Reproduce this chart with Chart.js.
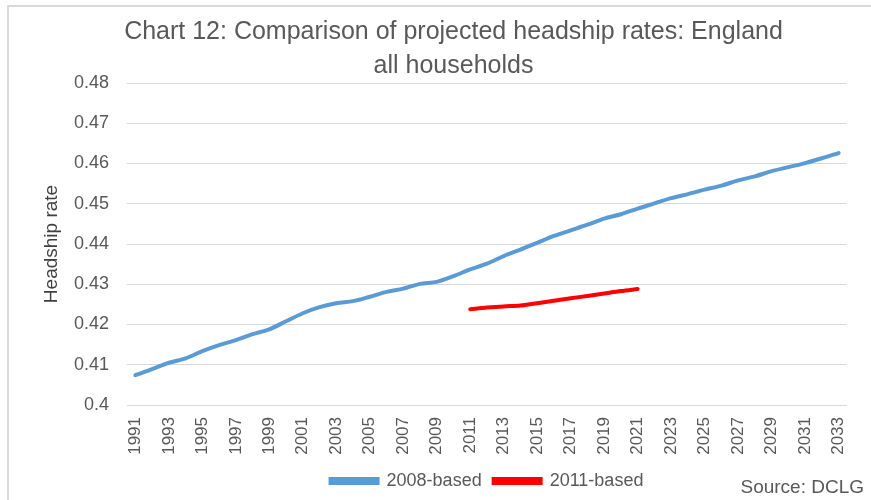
<!DOCTYPE html>
<html>
<head>
<meta charset="utf-8">
<script src="https://cdn.jsdelivr.net/npm/chart.js@4/dist/chart.umd.min.js"></script>
<style>
  html, body { margin: 0; padding: 0; background: #fff; }
  #wrap { width: 871px; height: 500px; position: relative; }
</style>
</head>
<body>
<div id="wrap"><canvas id="myChart"></canvas></div>
<script>
// years on the x axis
const years = [];
for (let y = 1991; y <= 2033; y++) years.push(String(y));

// 2008-based headship rate
const based2008 = [
    0.4074, 0.4089, 0.4105, 0.4116, 0.4134, 0.4149, 0.4161, 0.4176, 0.4188, 0.4208,
    0.4228, 0.4243, 0.4253, 0.4258, 0.4269, 0.4281, 0.4289, 0.4301, 0.4306, 0.4320,
    0.4337, 0.4351, 0.4370, 0.4386, 0.4403, 0.4420, 0.4434, 0.4448, 0.4463, 0.4474,
    0.4488, 0.4501, 0.4514, 0.4524, 0.4535, 0.4545, 0.4558, 0.4568, 0.4581, 0.4591,
    0.4601, 0.4613, 0.4626
];

// 2011-based projection, only 2011 to 2021
const based2011 = [
    null, null, null, null, null, null, null, null, null, null,
    null, null, null, null, null, null, null, null, null, null,
    0.4238, 0.4242, 0.4245, 0.4247, 0.4253, 0.4259, 0.4265, 0.4271, 0.4277, 0.4283,
    0.4288, null, null, null, null, null, null, null, null, null,
    null, null, null
];

const titleLines = ['Chart 12: Comparison of projected headship rates: England', 'all households'];
const sourceText = 'Source: DCLG';

const FONT = "'Liberation Sans', Arial, sans-serif";
const GREY = '#595959';

// light frame round the chart and the source note
const extras = {
    id: 'extras',
    beforeDraw(chart) {
        const c = chart.ctx;
        c.save();
        c.fillStyle = '#fff';
        c.fillRect(0, 0, chart.width, chart.height);
        c.strokeStyle = '#d9d9d9';
        c.lineWidth = 2;
        c.strokeRect(8, 6, chart.width + 20, chart.height + 20);
        c.restore();
    },
    afterDraw(chart) {
        const c = chart.ctx;
        c.save();
        c.font = '19px ' + FONT;
        c.fillStyle = GREY;
        c.textAlign = 'right';
        c.textBaseline = 'alphabetic';
        c.fillText(sourceText, chart.width - 7, 493);
        c.restore();
    }
};

const ctx = document.getElementById('myChart');
new Chart(ctx, {
    type: 'line',
    data: {
        labels: years,
        datasets: [{
            label: '2008-based',
            data: based2008,
            borderColor: '#5b9bd5',
            backgroundColor: '#5b9bd5',
            borderWidth: 4,
            pointRadius: 0,
            tension: 0.3,
            borderCapStyle: 'round'
        },
        {
            label: '2011-based',
            data: based2011,
            borderColor: '#ff0000',
            backgroundColor: '#ff0000',
            borderWidth: 4,
            pointRadius: 0,
            tension: 0.3,
            borderCapStyle: 'round'
        }]
    },
    options: {
        responsive: true,
        maintainAspectRatio: false,
        animation: false,
        layout: {
            padding: { left: 36, right: 0, top: 0, bottom: 0 }
        },
        scales: {
            x: {
                offset: true,
                grid: { display: false, drawTicks: false },
                border: { display: false },
                afterFit: function(scale) { scale.height = 55; },
                ticks: {
                    autoSkip: false,
                    minRotation: 90,
                    maxRotation: 90,
                    padding: 12,
                    color: GREY,
                    font: { family: FONT, size: 17 },
                    callback: function(val, index) {
                        return index % 2 === 0 ? this.getLabelForValue(val) : '';
                    }
                }
            },
            y: {
                min: 0.4,
                max: 0.48,
                afterFit: function(scale) { scale.width = 91; },
                grid: { color: '#d9d9d9', lineWidth: 1, drawTicks: false },
                border: { display: false },
                ticks: {
                    stepSize: 0.01,
                    padding: 18,
                    color: GREY,
                    font: { family: FONT, size: 18 },
                    callback: function(v) { return String(Math.round(v * 100) / 100); }
                },
                title: {
                    display: true,
                    text: 'Headship rate',
                    color: '#404040',
                    padding: { top: 4, bottom: 0 },
                    font: { family: FONT, size: 19 }
                }
            }
        },
        plugins: {
            title: {
                display: true,
                text: titleLines,
                color: GREY,
                font: { family: FONT, size: 25, weight: 'normal', lineHeight: 1.36 },
                padding: { top: 15, bottom: 0 }
            },
            legend: {
                position: 'bottom',
                fullSize: false,
                labels: {
                    boxWidth: 47,
                    boxHeight: 4,
                    padding: 12,
                    color: GREY,
                    font: { family: FONT, size: 18 }
                }
            },
            tooltip: { enabled: false }
        }
    },
    plugins: [extras]
});
</script>
</body>
</html>
